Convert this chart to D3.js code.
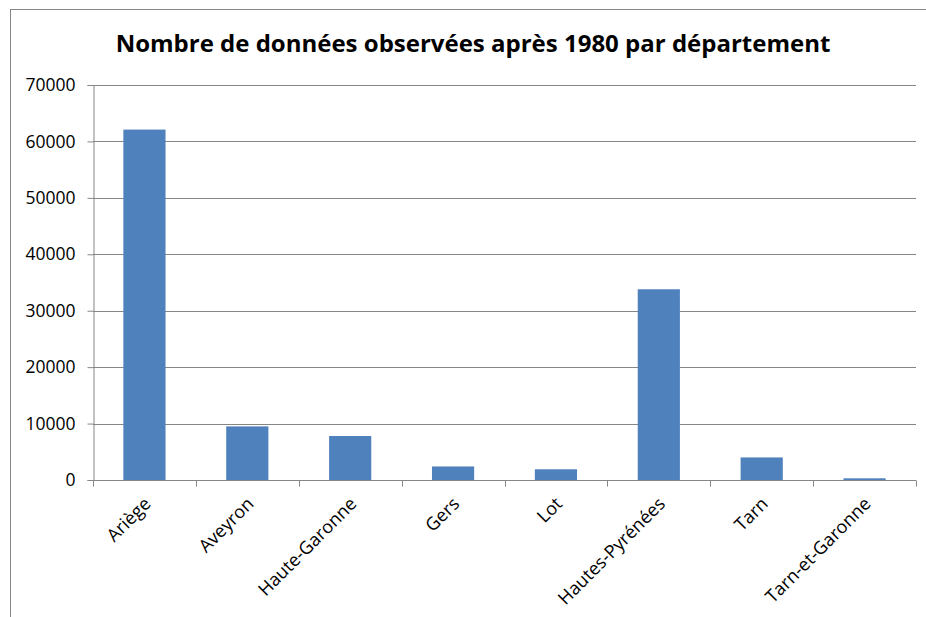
<!DOCTYPE html>
<html lang="fr">
<head>
    <meta charset="UTF-8">
    <title>Nombre de données observées après 1980 par département</title>
    <style>
        body { margin: 0; background: #fff; }
        text { font-family: "Open Sans", "Liberation Sans", sans-serif; }
    </style>
</head>
<body>
<script src="https://cdn.jsdelivr.net/npm/d3@7"></script>
<script>
    const departements = ["Ariège", "Aveyron", "Haute-Garonne", "Gers", "Lot", "Hautes-Pyrénées", "Tarn", "Tarn-et-Garonne"];
    const valeurs = [62100, 9500, 7800, 2400, 1900, 33800, 4000, 300];
    const yTicks = [0, 10000, 20000, 30000, 40000, 50000, 60000, 70000];

    const width = 926, height = 617;
    const margin = ({top: 85, right: 10, bottom: 137, left: 93});
    const gray = "#868686";

    const svg = d3.select("body")
        .append("svg")
        .attr("width", width)
        .attr("height", height);

    // chart frame (runs off the page on right and bottom)
    svg.append("rect")
        .attr("x", 10.5).attr("y", 9.5)
        .attr("width", width).attr("height", height)
        .attr("fill", "none").attr("stroke", gray);

    const x = d3.scaleBand()
        .domain(departements)
        .range([margin.left, width - margin.right])
        .paddingInner(0.59)
        .paddingOuter(0.295);

    const y = d3.scaleLinear()
        .domain([0, 70000])
        .range([height - margin.bottom, margin.top]);

    // gridlines
    svg.append("g")
        .selectAll("line")
        .data(yTicks.slice(1))
        .join("line")
        .attr("x1", margin.left).attr("x2", width - margin.right)
        .attr("y1", d => Math.round(y(d)) + 0.5).attr("y2", d => Math.round(y(d)) + 0.5)
        .attr("stroke", gray);

    // bars
    svg.append("g")
        .attr("fill", "#4f81bd")
        .selectAll("rect")
        .data(valeurs)
        .join("rect")
        .attr("x", (d, i) => x(departements[i]))
        .attr("y", d => y(d))
        .attr("width", x.bandwidth())
        .attr("height", d => y(0) - y(d));

    // y axis
    svg.append("g")
        .attr("transform", `translate(${margin.left + 0.5},0)`)
        .call(d3.axisLeft(y).tickValues(yTicks).tickFormat(d3.format("d")).tickSize(6).tickPadding(12))
        .call(g => g.selectAll("line, path").attr("stroke", gray))
        .call(g => g.selectAll("text").attr("fill", "#000").style("font-size", "17.5px"));

    // x axis with ticks at band boundaries
    const bottom = Math.round(y(0)) + 0.5;
    const xg = svg.append("g");
    xg.append("line")
        .attr("x1", margin.left).attr("x2", width - margin.right)
        .attr("y1", bottom).attr("y2", bottom)
        .attr("stroke", gray);
    const step = x.step();
    xg.selectAll("line.tick")
        .data(d3.range(departements.length + 1))
        .join("line")
        .attr("class", "tick")
        .attr("x1", i => Math.round(margin.left + i * step) + 0.5)
        .attr("x2", i => Math.round(margin.left + i * step) + 0.5)
        .attr("y1", bottom).attr("y2", bottom + 6)
        .attr("stroke", gray);
    xg.selectAll("text")
        .data(departements)
        .join("text")
        .attr("transform", d => `translate(${x(d) + x.bandwidth() / 2 + 3},${bottom + 20}) rotate(-45)`)
        .attr("text-anchor", "end")
        .attr("dy", "0.35em")
        .style("font-size", "18px")
        .text(d => d);

    // title
    svg.append("text")
        .attr("x", 473)
        .attr("y", 52)
        .attr("text-anchor", "middle")
        .style("font-size", "24px")
        .style("font-weight", "bold")
        .text("Nombre de données observées après 1980 par département");
</script>
</body>
</html>
